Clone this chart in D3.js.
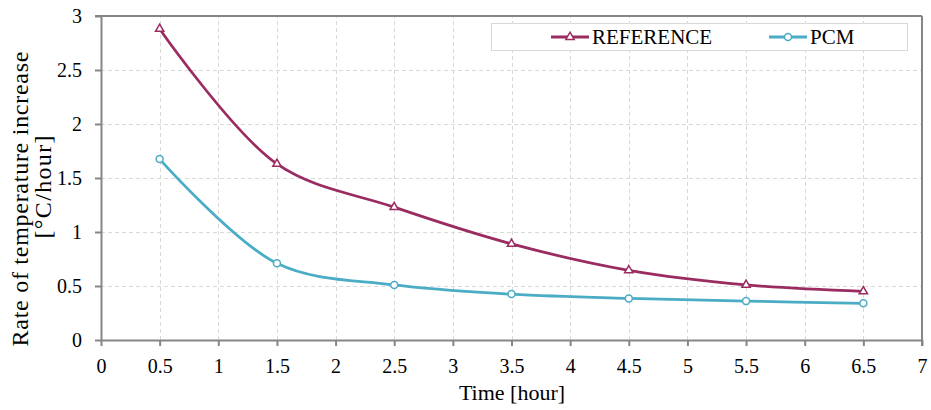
<!DOCTYPE html>
<html>
<head>
<meta charset="utf-8">
<script src="https://cdn.jsdelivr.net/npm/d3@7"></script>
<style>
  body { margin: 0; background: #fff; }
  svg { display: block; }
  svg text { font-family: "Liberation Serif", "Times New Roman", serif; fill: #000; }
</style>
</head>
<body>
<div id="chart"></div>
<script>
const hours = [0.5, 1.5, 2.5, 3.5, 4.5, 5.5, 6.5];
const reference = [2.88, 1.63, 1.23, 0.89, 0.645, 0.51, 0.45];
const pcm = [1.675, 0.71, 0.51, 0.425, 0.385, 0.36, 0.34];
const xTicks = [0, 0.5, 1, 1.5, 2, 2.5, 3, 3.5, 4, 4.5, 5, 5.5, 6, 6.5, 7];
const yTicks = [0, 0.5, 1, 1.5, 2, 2.5, 3];

const width = 931, height = 410;
const margin = {top: 16, right: 9, bottom: 70, left: 101};

const svg = d3.select("#chart").append("svg")
    .attr("width", width)
    .attr("height", height);

const x = d3.scaleLinear().domain([0, 7]).range([margin.left, width - margin.right]);
const y = d3.scaleLinear().domain([0, 3]).range([height - margin.bottom, margin.top]);

const fmt = d3.format("~g");

// grid
const grid = svg.append("g")
    .attr("stroke", "#d9d9d9")
    .attr("stroke-dasharray", "4,3")
    .attr("stroke-width", 1);
grid.selectAll(".gx").data(xTicks.slice(1, -1)).join("line")
    .attr("x1", d => Math.round(x(d)) + 0.5).attr("x2", d => Math.round(x(d)) + 0.5)
    .attr("y1", y(0)).attr("y2", y(3));
grid.selectAll(".gy").data(yTicks.slice(1, -1)).join("line")
    .attr("y1", d => Math.round(y(d)) + 0.5).attr("y2", d => Math.round(y(d)) + 0.5)
    .attr("x1", x(0)).attr("x2", x(7));

// axes
const xAxis = d3.axisBottom(x).tickValues(xTicks).tickFormat(fmt)
    .tickSize(6).tickSizeOuter(0).tickPadding(13);
const yAxis = d3.axisLeft(y).tickValues(yTicks).tickFormat(fmt)
    .tickSize(6).tickSizeOuter(0).tickPadding(13);

const gx = svg.append("g")
    .attr("transform", `translate(0,${y(0)})`)
    .call(xAxis);
const gy = svg.append("g")
    .attr("transform", `translate(${x(0)},0)`)
    .call(yAxis);

[gx, gy].forEach(g => {
    g.attr("font-family", null).attr("font-size", null);
    g.select(".domain").attr("stroke", "#868686").attr("stroke-width", 2);
    g.selectAll(".tick line").attr("stroke", "#868686").attr("stroke-width", 2);
    g.selectAll(".tick text")
        .attr("fill", "#000")
        .style("font-size", "20px");
});

// top and right frame
svg.append("line")
    .attr("x1", x(0) - 6).attr("x2", x(7))
    .attr("y1", y(3)).attr("y2", y(3))
    .attr("stroke", "#868686").attr("stroke-width", 2);
svg.append("line")
    .attr("x1", x(7)).attr("x2", x(7))
    .attr("y1", y(3)).attr("y2", y(0) + 6)
    .attr("stroke", "#868686").attr("stroke-width", 2);

// axis titles
svg.append("text")
    .attr("x", 512)
    .attr("y", 400)
    .attr("text-anchor", "middle")
    .style("font-size", "22px")
    .text("Time [hour]");

svg.append("text")
    .attr("transform", "translate(28,199) rotate(-90)")
    .attr("text-anchor", "middle")
    .attr("textLength", 295)
    .attr("lengthAdjust", "spacing")
    .style("font-size", "24px")
    .text("Rate of temperature increase");
svg.append("text")
    .attr("transform", "translate(51,187) rotate(-90)")
    .attr("text-anchor", "middle")
    .attr("textLength", 103)
    .attr("lengthAdjust", "spacing")
    .style("font-size", "24px")
    .text("[°C/hour]");

// series
const series = [
    {name: "REFERENCE", values: reference, color: "#9b2c62", marker: "triangle"},
    {name: "PCM", values: pcm, color: "#4bacc6", marker: "circle"}
];

const line = d3.line()
    .x(d => x(d[0]))
    .y(d => y(d[1]))
    .curve(d3.curveCatmullRom.alpha(0.5));

const triangle = d3.symbol().type(d3.symbolTriangle).size(30);

function drawMarker(g, kind, color) {
    if (kind === "circle") {
        g.append("circle").attr("r", 3.5)
            .attr("fill", "#fff").attr("stroke", color).attr("stroke-width", 1.5);
    } else {
        g.append("path").attr("d", triangle())
            .attr("fill", "#fff").attr("stroke", color).attr("stroke-width", 1.5);
    }
}

series.forEach(s => {
    const pts = hours.map((h, i) => [h, s.values[i]]);
    svg.append("path")
        .datum(pts)
        .attr("fill", "none")
        .attr("stroke", s.color)
        .attr("stroke-width", 2.75)
        .attr("d", line);
    pts.forEach(p => {
        const g = svg.append("g").attr("transform", `translate(${x(p[0])},${y(p[1])})`);
        drawMarker(g, s.marker, s.color);
    });
});

// legend
const legend = svg.append("g");
legend.append("rect")
    .attr("x", 491.5).attr("y", 23.5)
    .attr("width", 416).attr("height", 27)
    .attr("fill", "#fff").attr("stroke", "#d9d9d9").attr("stroke-width", 1);

const legendPos = [551, 769];
series.forEach((s, i) => {
    const lx = legendPos[i];
    const g = legend.append("g").attr("transform", `translate(${lx},37)`);
    g.append("line").attr("x1", 0).attr("x2", 38).attr("y1", 0).attr("y2", 0)
        .attr("stroke", s.color).attr("stroke-width", 3);
    const m = g.append("g").attr("transform", "translate(19,0)");
    drawMarker(m, s.marker, s.color);
    g.append("text")
        .attr("x", 41).attr("y", 7)
        .style("font-size", "21px")
        .text(s.name);
});
</script>
</body>
</html>
